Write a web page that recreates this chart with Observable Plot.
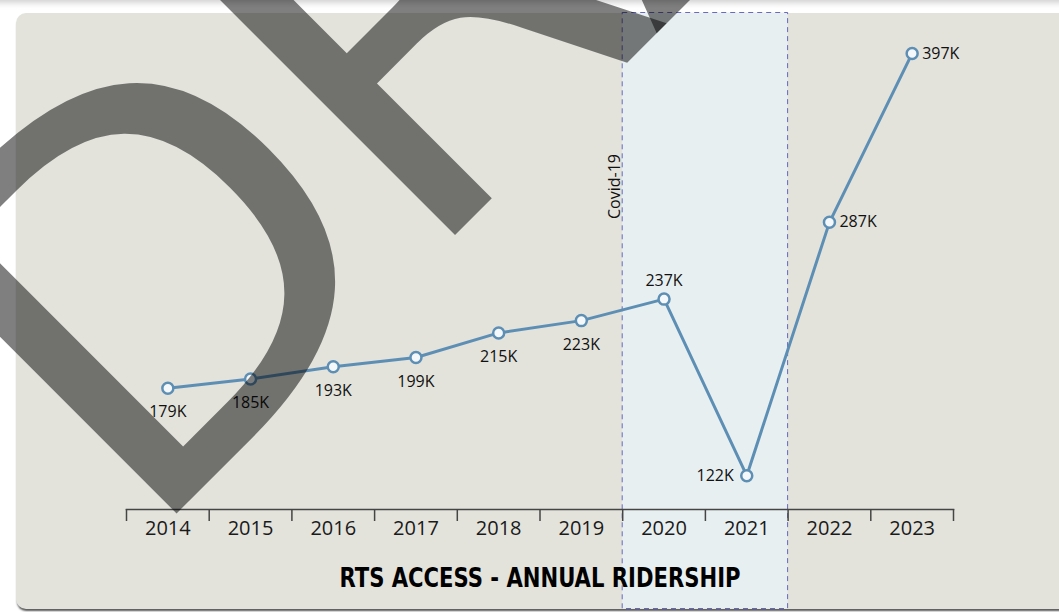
<!DOCTYPE html>
<html>
<head>
<meta charset="utf-8">
<script src="https://cdn.jsdelivr.net/npm/d3@7"></script>
<script src="https://cdn.jsdelivr.net/npm/@observablehq/plot@0.6"></script>
<style>
  html, body { margin: 0; padding: 0; background: #ffffff; width: 1059px; height: 612px; overflow: hidden; position: relative; }
  #topcard { position: absolute; left: -20px; top: -40px; width: 1120px; height: 40px; background: #fff; box-shadow: 0 2px 7px rgba(0,0,0,0.22); }
  #panel { position: absolute; left: 16px; top: 13px; width: 1080px; height: 596px; background: #e3e3dc; border-radius: 10px; box-shadow: 0 3px 2px -1px rgba(0,0,0,0.65); }
  #chart { position: absolute; left: 0; top: 0; }
  #title { position: absolute; left: 0; top: 0; pointer-events: none; }
  #watermark { position: absolute; left: 0; top: 0; pointer-events: none; }
</style>
</head>
<body>
<div id="topcard"></div>
<div id="panel">
  <div id="chart"></div>
  <svg id="title" width="1043" height="596"></svg>
</div>
<svg id="watermark" width="1059" height="612"></svg>
<script>
// ---- data ----
const years = [2014, 2015, 2016, 2017, 2018, 2019, 2020, 2021, 2022, 2023];
const ridership = [179000, 185000, 193000, 199000, 215000, 223000, 237000, 122000, 287000, 397000];
const covidYears = [2020, 2021];
const covidLabel = "Covid-19";
const chartTitle = "RTS ACCESS - ANNUAL RIDERSHIP";
const watermarkText = "DRAFT";

// ---- derived table ----
const data = years.map((year, i) => ({
  year,
  value: ridership[i],
  label: `${Math.round(ridership[i] / 1000)}K`
}));
// label placement rule
const placement = d => d.year < covidYears[0] ? "below"
  : d.year === covidYears[0] ? "above"
  : d.year === covidYears[1] ? "left" : "right";
const boundaries = [...years.map(y => y - 0.5), years[years.length - 1] + 0.5];
const covidBand = [{x1: covidYears[0] - 0.5, x2: covidYears[covidYears.length - 1] + 0.5, label: covidLabel}];

const W = 1043, H = 596, MB = 100;
const blue = "#5d8fb5";
const labelStyle = {x: "year", y: "value", text: "label", fontSize: 16, fill: "#111"};

const chart = Plot.plot({
  width: W,
  height: H,
  marginLeft: 110,
  marginRight: 106,
  marginTop: 0,
  marginBottom: MB,
  style: {background: "transparent", fontFamily: "'Open Sans', sans-serif", overflow: "visible"},
  x: {type: "linear", domain: [years[0] - 0.5, years[years.length - 1] + 0.5]},
  y: {domain: [100000, 423000], axis: null},
  marks: [
    Plot.rect(covidBand, {
      x1: "x1", x2: "x2",
      fill: "#e8eff1",
      stroke: "#5151b5", strokeOpacity: 0.85, strokeWidth: 1, strokeDasharray: "5,4",
      insetTop: -0.5, insetBottom: -MB + 0.5
    }),
    Plot.frame({anchor: "bottom", stroke: "#454545", strokeWidth: 1.6}),
    Plot.axisX(boundaries, {tickSize: 12, tickFormat: () => "", stroke: "#454545", strokeWidth: 1.5, label: null}),
    Plot.axisX(years, {tickSize: 0, tickPadding: 11, fontSize: 20, tickFormat: d => String(d), fill: "#1a1a1a", label: null}),
    Plot.line(data, {x: "year", y: "value", stroke: blue, strokeWidth: 3}),
    Plot.dot(data, {x: "year", y: "value", r: 5.5, fill: "#f5f8fa", stroke: blue, strokeWidth: 2.5}),
    Plot.text(data.filter(d => placement(d) === "below"), {...labelStyle, dy: 24}),
    Plot.text(data.filter(d => placement(d) === "above"), {...labelStyle, dy: -18}),
    Plot.text(data.filter(d => placement(d) === "left"), {...labelStyle, textAnchor: "end", dx: -13}),
    Plot.text(data.filter(d => placement(d) === "right"), {...labelStyle, textAnchor: "start", dx: 10}),
    Plot.text(covidBand, {
      x: "x1", text: "label", frameAnchor: "top", dy: 173, dx: -3,
      rotate: -90, textAnchor: "middle", lineAnchor: "bottom", fontSize: 16, fill: "#111"
    })
  ]
});
document.getElementById("chart").appendChild(chart);

// title (HTML-level svg overlay, below the chart area)
const ns = "http://www.w3.org/2000/svg";
const t = document.createElementNS(ns, "text");
t.setAttribute("x", 524);
t.setAttribute("y", 574);
t.setAttribute("text-anchor", "middle");
t.setAttribute("font-family", "'DejaVu Sans Condensed', 'DejaVu Sans', sans-serif");
t.setAttribute("font-weight", "bold");
t.setAttribute("font-size", 27);
t.setAttribute("textLength", 401);
t.setAttribute("lengthAdjust", "spacingAndGlyphs");
t.setAttribute("fill", "#000");
t.textContent = chartTitle;
document.getElementById("title").appendChild(t);

// watermark
const w = document.createElementNS(ns, "text");
w.setAttribute("transform", "translate(140,550) rotate(-45)");
w.setAttribute("font-family", "'DejaVu Sans', sans-serif");
w.setAttribute("font-size", 527);
w.setAttribute("fill", "#000");
w.setAttribute("fill-opacity", 0.5);
w.style.letterSpacing = "-12px";
w.textContent = watermarkText;
document.getElementById("watermark").appendChild(w);
</script>
</body>
</html>
